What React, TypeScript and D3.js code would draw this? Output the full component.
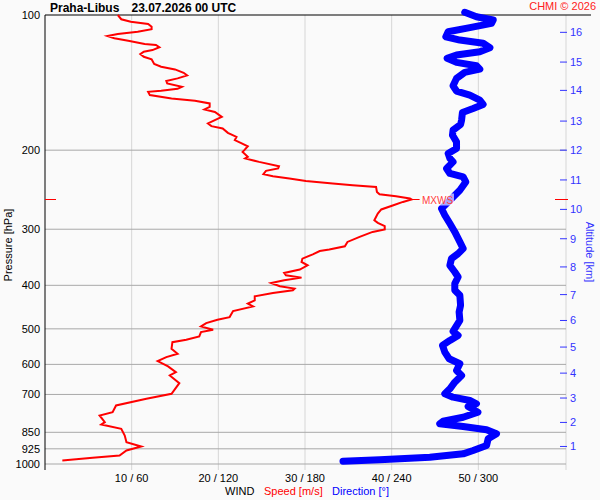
import * as d3 from 'd3'

// wind speed profile (hPa, m/s)
const speedLevels = [
  100, 102.2, 103.5, 104.7, 106.2, 107.6, 109, 110.2, 111.4, 112.7, 114.1, 116, 116.6, 118, 119.7,
  120.7, 122.2, 123.9, 125.5, 128.6, 130.4, 132.2, 134.5, 136.3, 138.4, 140.3, 142, 144.5, 146,
  147.5, 148.3, 150.8, 153.4, 155.3, 157.4, 160.2, 162.3, 164.4, 168.6, 171.5, 174.4, 176.8, 178.9,
  183, 186.8, 190, 193.2, 196, 200, 201.8, 207, 208.7, 212.4, 217.1, 219.7, 222.4, 226.2, 228.6,
  231.3, 234.2, 237.3, 239.4, 241.5, 247.7, 250.7, 253.2, 256.2, 257.6, 260.8, 265.2, 271.1, 276.8,
  286.4, 290.4, 295.4, 300.5, 304.2, 312.1, 320.2, 327.4, 333, 335.4, 341.2, 348.8, 354.9, 361,
  369, 375.5, 380, 384.5, 389.8, 395.3, 402, 406.8, 410.4, 416.1, 423.2, 432, 439.4, 445.6, 456.5,
  470.8, 477.1, 485.5, 493.8, 502.3, 508.5, 519.8, 528.7, 535.3, 553.7, 568.1, 578.1, 590.1, 606.4,
  624.4, 635, 660.6, 697.5, 715.6, 740.7, 766.6, 779.7, 807, 816.6, 834.8, 864, 894.2, 914.2,
  933.2, 957.3, 969, 982.2,
]
const speedValues = [
  8.4, 8.8, 9.9, 11.9, 12.3, 12.3, 10.7, 8.4, 7.2, 8.0, 9.6, 11.5, 12.8, 13.2, 12.4,
  11.4, 11.0, 11.4, 12.3, 12.6, 13.4, 15.0, 16.0, 16.4, 15.3, 14.0, 14.1, 15.8, 15.3,
  13.4, 11.9, 12.1, 14.6, 17.3, 19.0, 19.0, 18.4, 19.6, 20.4, 19.6, 18.8, 19.2, 20.5,
  21.1, 22.1, 21.9, 22.7, 23.4, 23.0, 22.8, 23.4, 23.1, 24.7, 27.0, 26.9, 25.5, 25.2, 26.3,
  28.2, 30.1, 33.2, 35.5, 38.2, 38.3, 38.6, 40.5, 42.1, 42.3, 41.3, 40.2, 38.8, 38.4,
  38.0, 38.4, 39.2, 39.2, 37.8, 36.3, 34.9, 34.6, 32.8, 31.7, 30.9, 29.7, 29.6, 30.3,
  29.4, 27.6, 27.8, 29.6, 27.6, 26.1, 27.1, 28.8, 28.6, 26.3, 24.2, 24.2, 23.4, 24.0, 21.7,
  21.3, 19.9, 18.6, 18.0, 19.4, 18.0, 17.8, 16.3, 14.7, 14.6, 15.3, 14.0, 13.0, 14.2,
  15.1, 14.4, 15.5, 14.6, 11.7, 8.2, 7.8, 6.3, 6.9, 6.5, 8.8, 9.2, 9.4, 11.1,
  9.4, 8.6, 5.5, 2.0,
]

// wind direction profile (hPa, deg)
const dirLevels = [
  98.6, 100.9, 102.6, 104.4, 106.7, 109, 111.8, 113.7, 115.6, 118.3, 120.7, 122.8, 124.9, 127.5,
  129.7, 132, 134.2, 138.4, 143.8, 147.7, 150.8, 154.7, 158.2, 161.5, 164.8, 171.5, 175.3, 180.5,
  185.2, 191.7, 198.3, 203.4, 208.7, 212.4, 219.7, 225.4, 229.4, 235.4, 245.6, 258.5, 269.8, 279.2,
  291.4, 304.2, 320.2, 331.3, 340, 348.8, 361, 373.6, 383.3, 396.5, 410.4, 421.1, 443.3, 458.8,
  478.6, 506.7, 517.1, 530.6, 544.5, 563.5, 582.9, 598.1, 618.9, 635, 657.3, 680, 697.5, 709.8,
  721.9, 734.3, 744.5, 766.6, 786.6, 803, 813.7, 825.1, 839.1, 856.5, 878.8, 909.6, 933.2, 949.1,
  966, 978.7, 985.7,
]
const dirValues = [
  290.6, 298.7, 310.3, 309.1, 294.1, 279.1, 277.5, 287.2, 303.3, 308.0, 301.0, 284.9, 278.4, 284.9,
  298.7, 301.0, 290.6, 284.9, 282.5, 284.9, 294.1, 301.0, 303.3, 296.4, 289.0, 288.4, 287.7, 282.5,
  282.1, 284.9, 284.9, 279.1, 280.3, 282.5, 278.0, 280.3, 289.5, 291.3, 287.2, 280.3, 274.5, 276.8,
  280.3, 283.7, 287.2, 289.5, 286.0, 281.4, 280.3, 283.7, 286.0, 283.7, 283.7, 287.2, 287.7, 286.7,
  287.2, 282.5, 286.0, 280.3, 275.2, 276.8, 279.8, 287.2, 284.9, 288.4, 283.7, 280.3, 276.8, 282.5,
  294.1, 298.7, 292.9, 299.7, 289.5, 275.6, 273.3, 289.5, 305.7, 312.6, 306.8, 305.7, 296.4, 289.5,
  266.4, 231.8, 206.3,
]

const pressureTicks = [100, 200, 300, 400, 500, 600, 700, 850, 925, 1000]
const speedTicks = [10, 20, 30, 40, 50]
const altitudeKm = [1, 2, 3, 4, 5, 6, 7, 8, 9, 10, 11, 12, 13, 14, 15, 16]
const altitudeHpa = [914, 808, 713, 627.5, 549, 479, 419.5, 364, 315, 271, 233, 200, 172.3, 147.2, 127.3, 109.3]
const maxWindHpa = 257.6
const maxWindSpeed = 42.3

const FONT = '"Liberation Sans", Arial, sans-serif'

export default function App() {
  const left = 45
  const right = 565
  const top = 15
  const bottom = 464

  const y = d3.scaleLog().domain([100, 1000]).range([top, bottom])
  const xs = d3.scaleLinear().domain([0, 60]).range([left, right])
  const xd = d3.scaleLinear().domain([0, 360]).range([left, right])

  const speedLine = d3.line<number>()
    .x(i => xs(speedValues[i]))
    .y(i => y(speedLevels[i]))
  const dirLine = d3.line<number>()
    .x(i => xd(dirValues[i]))
    .y(i => y(dirLevels[i]))

  const yMax = y(maxWindHpa)

  return (
    <svg width={600} height={500} style={{ position: 'absolute', left: 0, top: 0, background: '#fafafa' }} fontFamily={FONT}>
      {/* title */}
      <text x={50} y={12} fontSize={12} fontWeight="bold">Praha-Libus</text>
      <text x={131.5} y={12} fontSize={12} fontWeight="bold">23.07.2026 00 UTC</text>
      <text x={596} y={10} fontSize={11} fill="#ff2020" textAnchor="end">CHMI © 2026</text>

      {/* vertical grid */}
      {speedTicks.map(t => (
        <line key={'v' + t} x1={xs(t)} x2={xs(t)} y1={top} y2={470} stroke="#d6d6d6" />
      ))}
      <line x1={566} x2={566} y1={top} y2={470} stroke="#d6d6d6" />

      {/* horizontal grid */}
      {pressureTicks.slice(1).map(p => (
        <line key={'h' + p} x1={left} x2={566} y1={y(p)} y2={y(p)} stroke="#a8a8a8" />
      ))}
      <line x1={left} x2={591} y1={top} y2={top} stroke="#000" />
      <line x1={left} x2={left} y1={top} y2={470} stroke="#000" />

      {/* pressure labels */}
      {pressureTicks.map(p => (
        <text key={'p' + p} x={40} y={y(p) + 4} fontSize={11} textAnchor="end">{p}</text>
      ))}
      <text transform="translate(12,245) rotate(-90)" fontSize={11} textAnchor="middle">Pressure [hPa]</text>

      {/* bottom labels */}
      {speedTicks.map(t => (
        <text key={'b' + t} x={xs(t)} y={482} fontSize={11} textAnchor="middle">{`${t} / ${t * 6}`}</text>
      ))}
      <text x={225} y={495} fontSize={11}>WIND</text>
      <text x={264} y={495} fontSize={11} fill="#ff0000">Speed [m/s]</text>
      <text x={332} y={495} fontSize={11} fill="#0000ff">Direction [°]</text>

      {/* altitude axis */}
      {altitudeKm.map((k, i) => (
        <g key={'a' + k}>
          <line x1={560} x2={567} y1={y(altitudeHpa[i])} y2={y(altitudeHpa[i])} stroke="#3333ff" />
          <text x={570} y={y(altitudeHpa[i]) + 4} fontSize={11} fill="#3333ff">{k}</text>
        </g>
      ))}
      <text transform="translate(586,252) rotate(90)" fontSize={11} fill="#3333ff" textAnchor="middle">Altitude [km]</text>

      {/* max wind markers */}
      <line x1={left} x2={56} y1={yMax} y2={yMax} stroke="#ff0000" />
      <line x1={555} x2={568} y1={yMax} y2={yMax} stroke="#ff0000" />

      {/* curves */}
      <path d={speedLine(d3.range(speedValues.length)) || ''} fill="none" stroke="#ff0000" strokeWidth={2} />
      <path d={dirLine(d3.range(dirValues.length)) || ''} fill="none" stroke="#0000ff" strokeWidth={7} strokeLinejoin="round" strokeLinecap="round" />

      <line x1={xs(maxWindSpeed)} x2={xs(maxWindSpeed) + 8} y1={yMax} y2={yMax} stroke="#ff0000" />
      <rect x={421} y={yMax - 6} width={33} height={12} fill="#ffffff" opacity={0.65} />
      <text x={422} y={yMax + 4} fontSize={10} fill="#ff4040">MXWS</text>
    </svg>
  )
}
